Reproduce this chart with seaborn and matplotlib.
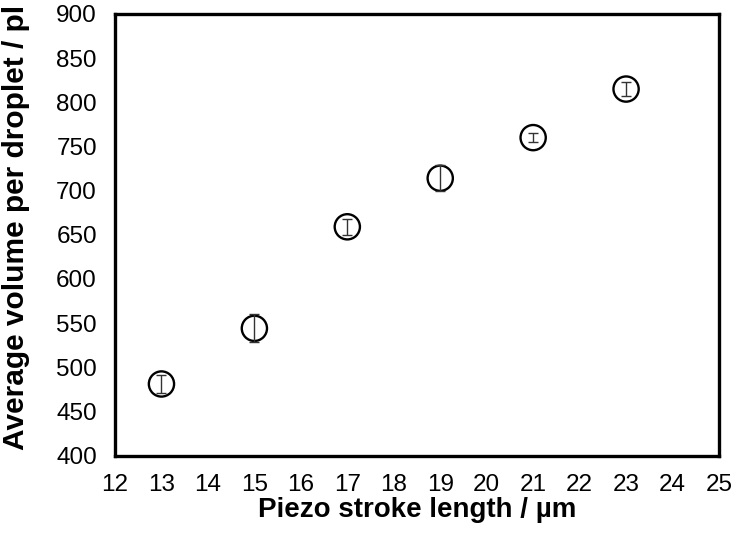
import numpy as np
import pandas as pd
import seaborn as sns
import matplotlib
matplotlib.use("Agg")
import matplotlib.pyplot as plt

# data
stroke = [13, 15, 17, 19, 21, 23]
volume = [481, 544, 659, 714, 760, 815]
vol_err = [10, 16, 9, 15, 5, 8]

x_ticks = list(range(12, 26))
y_ticks = list(range(400, 901, 50))

df = pd.DataFrame({"stroke": stroke, "volume": volume, "err": vol_err})

sns.set_style("white")
plt.rcParams["font.family"] = ["Liberation Sans", "DejaVu Sans"]
plt.rcParams["text.color"] = "black"

fig = plt.figure(figsize=(7.33, 5.34), dpi=100)
ax = fig.add_axes([115 / 733, (534 - 455.5) / 534, 604 / 733, 441.5 / 534])

ax.errorbar(df["stroke"], df["volume"], yerr=df["err"], fmt="none",
            ecolor="#333333", elinewidth=1.0, capsize=3.5, capthick=1.0, zorder=3)
sns.scatterplot(data=df, x="stroke", y="volume", ax=ax, marker="o", s=330,
                facecolor="none", edgecolor="black", linewidth=1.7, zorder=2)

ax.set_xlim(12, 25)
ax.set_ylim(400, 900)
ax.set_xticks(x_ticks)
ax.set_yticks(y_ticks)
ax.tick_params(axis="both", direction="in", length=5, width=1, labelsize=17.5,
               colors="black", labelcolor="black", pad=13)
for s in ax.spines.values():
    s.set_linewidth(2.4)
    s.set_color("black")

ax.set_xlabel("Piezo stroke length / µm", fontsize=20, fontweight="bold",
              color="black", labelpad=1)
# long label, sized so it just fits inside the top edge
ax.set_ylabel("Average volume per droplet / pl", fontsize=21.5, fontweight="bold",
              color="black", ha="left")
ax.yaxis.set_label_coords(-0.141, 0.012)

fig.savefig("out.png", dpi=100)
